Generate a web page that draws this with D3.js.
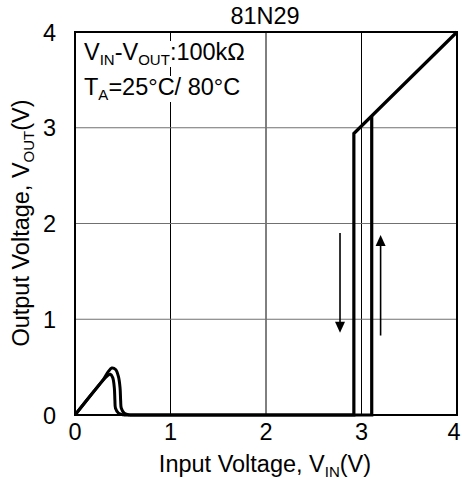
<!DOCTYPE html>
<html><head><meta charset="utf-8">
<script src="https://cdn.jsdelivr.net/npm/d3@7"></script>
<style>body{margin:0;background:#fff}svg{display:block}text{font-family:"Liberation Sans",Arial,sans-serif;fill:#000}</style>
</head><body>
<script>
const title = "81N29";
const xTicks = [0,1,2,3,4];
const yTicks = [0,1,2,3,4];
const gridVals = [1,2,3];
// hump (low input region), two temperatures
const humpOuter = [[0,0],[0.2,0.25],[0.3,0.375],[0.35,0.455],[0.385,0.49],[0.425,0.475],[0.455,0.4],[0.472,0.28],[0.478,0.15],[0.485,0.07],[0.515,0.02],[0.57,0]];
const humpInner = [[0,0],[0.2,0.25],[0.3,0.37],[0.34,0.41],[0.37,0.425],[0.395,0.39],[0.412,0.28],[0.418,0.15],[0.424,0.07],[0.455,0.02],[0.51,0]];
// hysteresis branches
const branchLow = [[0.57,0],[2.92,0],[2.92,2.94],[4,4]];
const branchHigh = [[0.51,0],[3.107,0],[3.107,3.12]];
// arrows [x, yFrom, yTo]
const arrows = [[2.775,1.90,0.86],[3.20,0.83,1.88]];

const W=462,H=485;
const svg=d3.select("body").append("svg").attr("width",W).attr("height",H);
const x=d3.scaleLinear().domain([0,4]).range([75,457]);
const y=d3.scaleLinear().domain([0,4]).range([415,32]);
const FS=23.5, SFS=15;

// grid
svg.selectAll(".gv").data(gridVals).enter().append("line")
 .attr("x1",d=>x(d)).attr("x2",d=>x(d)).attr("y1",y(0)).attr("y2",y(4))
 .attr("stroke","#000").attr("stroke-width",1);
svg.selectAll(".gh").data(gridVals).enter().append("line")
 .attr("x1",x(0)).attr("x2",x(4)).attr("y1",d=>y(d)).attr("y2",d=>y(d))
 .attr("stroke","#707070").attr("stroke-width",1.2);

// annotation text with white background
const ann=svg.append("g");
function addLine(yb, parts){
  const t=ann.append("text").attr("x",84).attr("y",yb).attr("font-size",FS);
  parts.forEach(p=>{
    const ts=t.append("tspan").text(p[0]);
    if(p[1]){ts.attr("font-size",SFS).attr("dy",5);}
    else if(p[2]){ts.attr("dy",-5);}
  });
  return t;
}
const t1=addLine(60,[["V"],["IN",1],["-",0,1],["V"],["OUT",1],[":100kΩ",0,1]]);
const t2=addLine(95,[["T"],["A",1],["=25°C/ 80°C",0,1]]);
[t1,t2].forEach(t=>{const b=t.node().getBBox();
  ann.insert("rect","text").attr("x",b.x-1).attr("y",b.y+2).attr("width",b.width+2).attr("height",b.height-3).attr("fill","#fff");});

// curves
const lineC=d3.line().x(d=>x(d[0])).y(d=>y(d[1])).curve(d3.curveCatmullRom.alpha(0.5));
const lineL=d3.line().x(d=>x(d[0])).y(d=>y(d[1]));
[humpOuter,humpInner].forEach(s=>svg.append("path").attr("d",lineC(s)).attr("fill","none").attr("stroke","#000").attr("stroke-width",3).attr("stroke-linejoin","round"));
[branchLow,branchHigh].forEach(s=>svg.append("path").attr("d",lineL(s)).attr("fill","none").attr("stroke","#000").attr("stroke-width",3.2));

// arrows
arrows.forEach(a=>{
  const xp=x(a[0]),y0=y(a[1]),y1=y(a[2]);const dir=y1>y0?1:-1;
  svg.append("line").attr("x1",xp).attr("x2",xp).attr("y1",y0).attr("y2",y1-dir*9).attr("stroke","#000").attr("stroke-width",1.6);
  svg.append("path").attr("d",`M${xp},${y1} L${xp-5},${y1-dir*11} L${xp+5},${y1-dir*11} Z`).attr("fill","#000");
});

// frame
svg.append("rect").attr("x",x(0)).attr("y",y(4)).attr("width",x(4)-x(0)).attr("height",y(0)-y(4)).attr("fill","none").attr("stroke","#000").attr("stroke-width",2);

// tick labels
svg.selectAll(".xl").data(xTicks).enter().append("text").attr("x",d=>Math.min(x(d),454)).attr("y",440).attr("text-anchor","middle").attr("font-size",FS).text(d=>d);
svg.selectAll(".yl").data(yTicks).enter().append("text").attr("x",56).attr("y",d=>y(d)+8.5).attr("text-anchor","end").attr("font-size",FS).text(d=>d);

// title
svg.append("text").attr("x",265).attr("y",24).attr("text-anchor","middle").attr("font-size",FS).text(title);

// x label
const xl=svg.append("text").attr("x",265).attr("y",472).attr("text-anchor","middle").attr("font-size",FS);
xl.append("tspan").text("Input Voltage, V");
xl.append("tspan").text("IN").attr("font-size",SFS).attr("dy",5);
xl.append("tspan").text("(V)").attr("dy",-5);
// y label
const yl=svg.append("text").attr("transform","translate(29,223) rotate(-90)").attr("text-anchor","middle").attr("font-size",FS);
yl.append("tspan").text("Output Voltage, V");
yl.append("tspan").text("OUT").attr("font-size",SFS).attr("dy",5);
yl.append("tspan").text("(V)").attr("dy",-5);
</script>
</body></html>
